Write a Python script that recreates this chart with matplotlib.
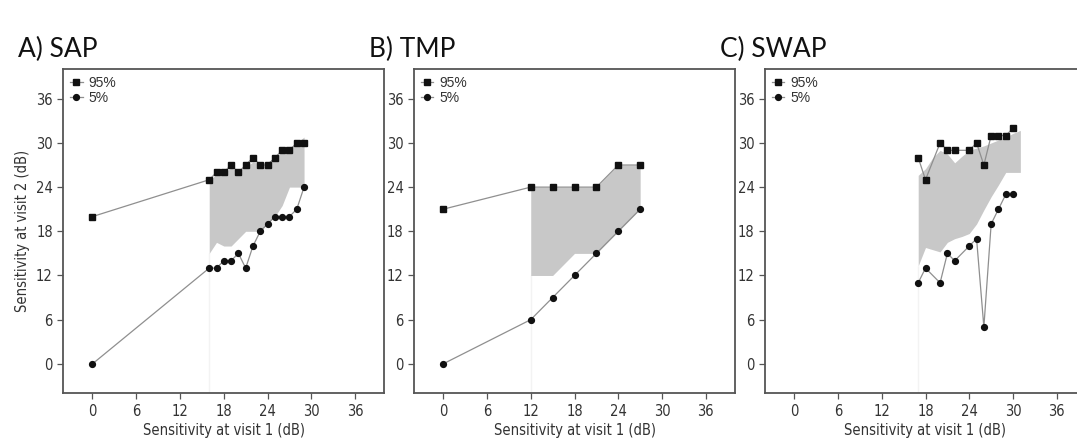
import numpy as np
import matplotlib.pyplot as plt

#%% data
titles = ['A) SAP', 'B) TMP', 'C) SWAP']

sap_x = [16, 17, 18, 19, 20, 21, 22, 23, 24, 25, 26, 27, 28, 29]
sap_x95 = [0] + sap_x
sap_y95 = [20, 25, 26, 26, 27, 26, 27, 28, 27, 27, 28, 29, 29, 30, 30]
sap_x5 = [0] + sap_x
sap_y5 = [0, 13, 13, 14, 14, 15, 13, 16, 18, 19, 20, 20, 20, 21, 24]
sap_band_x = sap_x
sap_band_lo = [15, 16.5, 16, 16, 17, 18, 18, 18, 19, 20, 21.5, 24, 24, 24]
sap_band_hi = [24.8, 25.8, 26, 26.6, 26.2, 26.8, 27.4, 27.2, 27.4, 28, 28.8, 29.4, 30, 30.8]

tmp_x95 = [0, 12, 15, 18, 21, 24, 27]
tmp_y95 = [21, 24, 24, 24, 24, 27, 27]
tmp_x5 = [0, 12, 15, 18, 21, 24, 27]
tmp_y5 = [0, 6, 9, 12, 15, 18, 21]
tmp_band_x = [12, 15, 18, 21, 24, 27]
tmp_band_lo = [12, 12, 15, 15, 18, 21]
tmp_band_hi = [24, 24, 24, 24, 27, 27]

swap_x95 = [17, 18, 20, 21, 22, 24, 25, 26, 27, 28, 29, 30]
swap_y95 = [28, 25, 30, 29, 29, 29, 30, 27, 31, 31, 31, 32]
swap_x5 = [17, 18, 20, 21, 22, 24, 25, 26, 27, 28, 29, 30]
swap_y5 = [11, 13, 11, 15, 14, 16, 17, 5, 19, 21, 23, 23]
swap_band_x = [17, 18, 19, 20, 21, 22, 23, 24, 25, 26, 27, 28, 29, 30, 31]
swap_band_lo = [13.3, 15.8, 15.5, 15.2, 16.5, 17, 17.3, 17.7, 19, 20.9, 22.7, 24.3, 26, 26, 26]
swap_band_hi = [25.6, 26.5, 28, 29, 28.5, 27.3, 28.2, 29, 29.3, 29.6, 30, 30.4, 30.8, 31.3, 31.7]

ticks = [0, 6, 12, 18, 24, 30, 36]

panels = [
    (sap_x95, sap_y95, sap_x5, sap_y5, sap_band_x, sap_band_lo, sap_band_hi),
    (tmp_x95, tmp_y95, tmp_x5, tmp_y5, tmp_band_x, tmp_band_lo, tmp_band_hi),
    (swap_x95, swap_y95, swap_x5, swap_y5, swap_band_x, swap_band_lo, swap_band_hi),
]

narrow = dict(family='DejaVu Sans', stretch='condensed', size=10.5, color='#333333')
plain = ['Liberation Sans', 'DejaVu Sans']

#%%
def draw_panel(ax, data):
    x95, y95, x5, y5, bx, lo, hi = data
    ax.fill_between(bx, lo, hi, color='#c8c8c8', lw=0, zorder=1)
    # faint edge the shaded polygon leaves down to the axis
    ax.vlines(bx[0], -4, lo[0], color='#f3f3f3', lw=1, zorder=0)
    ax.plot(x95, y95, '-', color='#8f8f8f', lw=0.9, marker='s', ms=4.5,
            mfc='#111111', mec='#111111', label='95%', zorder=3)
    ax.plot(x5, y5, '-', color='#8f8f8f', lw=0.9, marker='o', ms=4.2,
            mfc='#111111', mec='#111111', label='5%', zorder=3)

    ax.set_xlim(-4, 40)
    ax.set_ylim(-4, 40)
    ax.set_xticks(ticks)
    ax.set_yticks(ticks)
    ax.set_xticklabels([str(t) for t in ticks], fontdict=narrow)
    ax.set_yticklabels([str(t) for t in ticks], fontdict=narrow)
    for s in ax.spines.values():
        s.set_color('#555555')
        s.set_linewidth(1.3)
    ax.tick_params(direction='out', length=4, width=0.9, color='#555555')
    ax.set_xlabel('Sensitivity at visit 1 (dB)', fontdict=narrow, labelpad=3)
    leg = ax.legend(loc='upper left', frameon=False, handlelength=0.9,
                    handletextpad=0.4, labelspacing=0.05, borderaxespad=0.3,
                    borderpad=0.2, prop={'family': plain, 'size': 10})
    for t in leg.get_texts():
        t.set_color('#333333')


#%%
if __name__ == '__main__':
    fig = plt.figure(figsize=(10.77, 4.42), dpi=100)
    W, H = 1077.0, 442.0
    lefts = [63.3, 414.0, 765.0]
    for i, data in enumerate(panels):
        ax = fig.add_axes([lefts[i] / W, (H - 393.3) / H, 321.0 / W, 324.0 / H])
        draw_panel(ax, data)
        if i == 0:
            ax.set_ylabel('Sensitivity at visit 2 (dB)', fontdict=narrow, labelpad=4)
        fig.text((lefts[i] - 45) / W, 1 - 57 / H, titles[i],
                 family=['Lato', 'DejaVu Sans'], fontsize=19, color='#111111',
                 va='baseline', ha='left')
    fig.savefig('out.png', dpi=100)
